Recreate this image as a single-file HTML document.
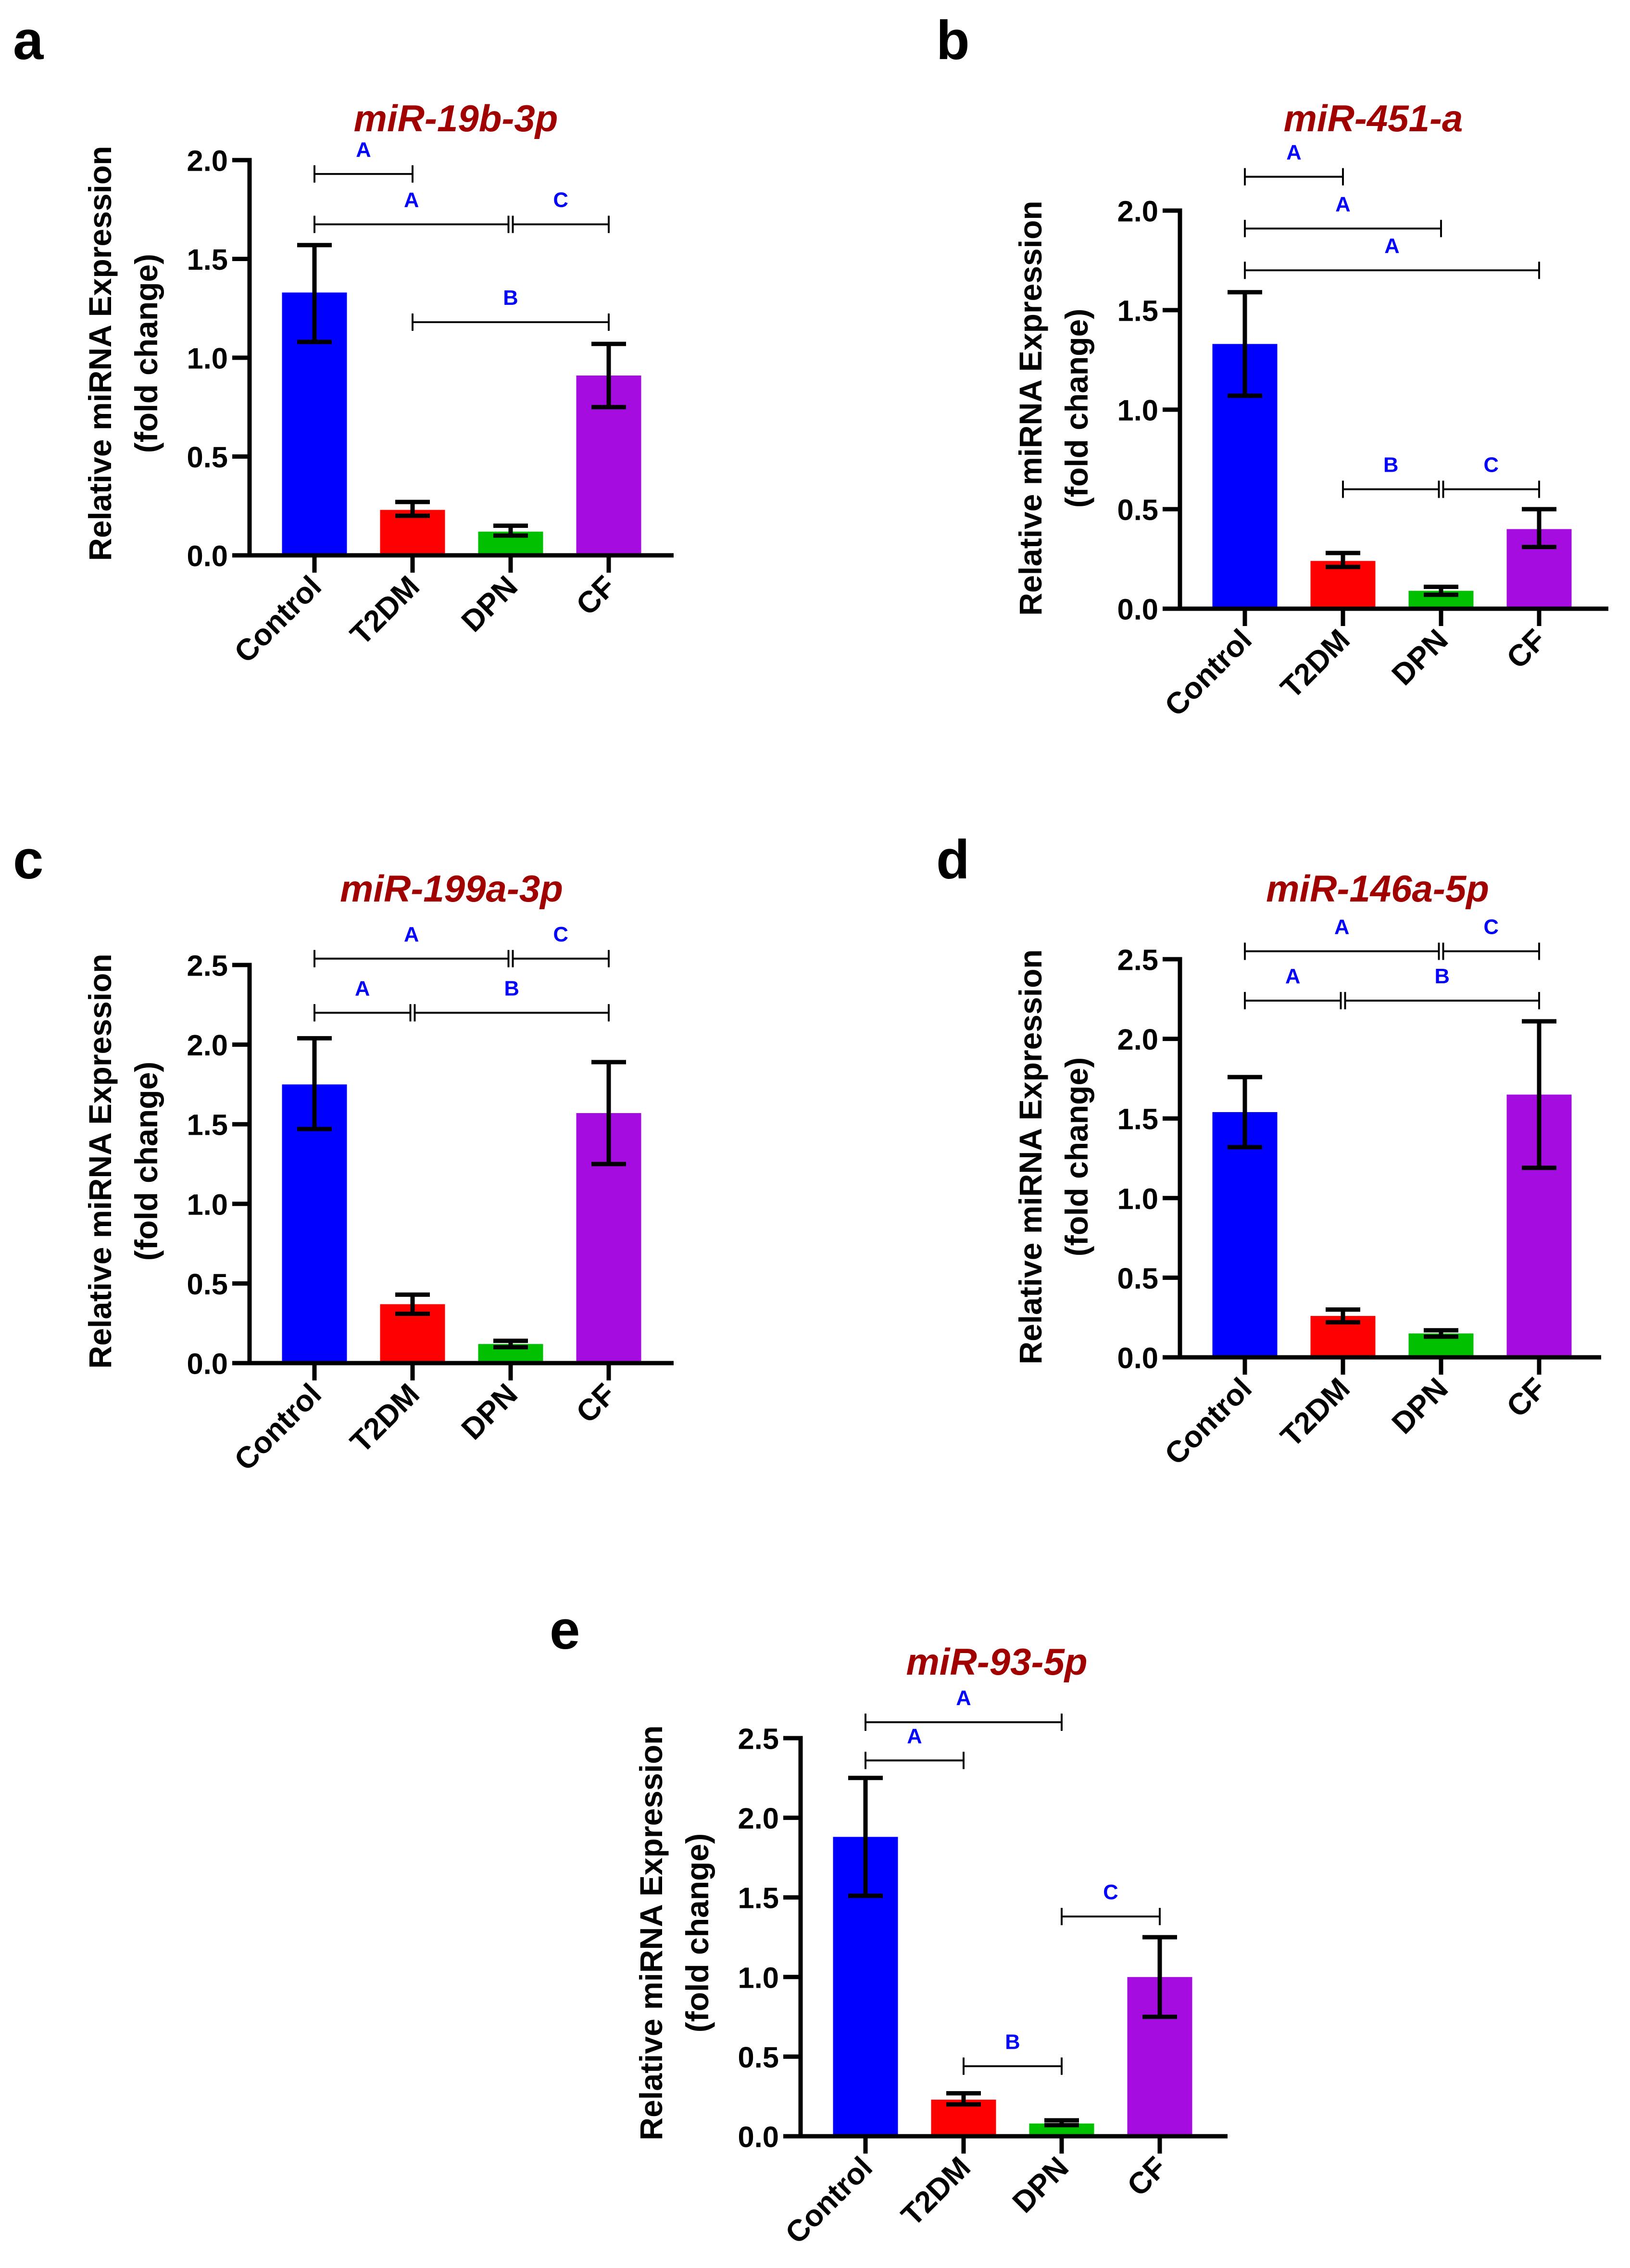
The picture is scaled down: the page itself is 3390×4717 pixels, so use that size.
<!DOCTYPE html>
<html><head><meta charset="utf-8"><style>
html,body{margin:0;padding:0;background:#fff}
svg{display:block}
text{font-family:"Liberation Sans",Arial,sans-serif;font-weight:bold}
</style></head><body>
<svg id="fig" width="3390" height="4717" viewBox="0 0 1130 1572.33" xmlns="http://www.w3.org/2000/svg"></svg>
<script>
const categories = ["Control","T2DM","DPN","CF"];
const colors = ["#0000ff","#ff0000","#00c000","#a40ce0"];
const titles = ["miR-19b-3p","miR-451-a","miR-199a-3p","miR-146a-5p","miR-93-5p"];
const panelLetters = ["a","b","c","d","e"];
const meanA = [1.33,0.23,0.12,0.91];
const lowA = [1.08,0.20,0.10,0.75];
const highA = [1.57,0.27,0.15,1.07];
const meanB = [1.33,0.24,0.09,0.40];
const lowB = [1.07,0.21,0.07,0.31];
const highB = [1.59,0.28,0.11,0.50];
const meanC = [1.75,0.37,0.12,1.57];
const lowC = [1.47,0.31,0.10,1.25];
const highC = [2.04,0.43,0.14,1.89];
const meanD = [1.54,0.26,0.15,1.65];
const lowD = [1.32,0.22,0.13,1.19];
const highD = [1.76,0.30,0.17,2.11];
const meanE = [1.88,0.23,0.08,1.00];
const lowE = [1.51,0.20,0.07,0.75];
const highE = [2.25,0.27,0.10,1.25];
const ticksAB = [0,0.5,1.0,1.5,2.0];
const ticksCDE = [0,0.5,1.0,1.5,2.0,2.5];
// brackets: [fromIndex, toIndex, yValue, letter]
const brA = [[0,1,1.93,"A"],[0,2,1.675,"A"],[2,3,1.675,"C"],[1,3,1.18,"B"]];
const brB = [[0,1,2.17,"A"],[0,2,1.91,"A"],[0,3,1.70,"A"],[1,2,0.60,"B"],[2,3,0.60,"C"]];
const brC = [[0,2,2.54,"A"],[2,3,2.54,"C"],[0,1,2.20,"A"],[1,3,2.20,"B"]];
const brD = [[0,2,2.55,"A"],[2,3,2.55,"C"],[0,1,2.24,"A"],[1,3,2.24,"B"]];
const brE = [[0,2,2.60,"A"],[0,1,2.36,"A"],[2,3,1.38,"C"],[1,2,0.44,"B"]];

const panels = [
 {mean:meanA,low:lowA,high:highA,ticks:ticksAB,br:brA,ax:173,y0:385,ytop:111,ymax:2.0,xend:467,lx:20,ly:28,ylc:245,tx:316,ty:82},
 {mean:meanB,low:lowB,high:highB,ticks:ticksAB,br:brB,ax:818,y0:422,ytop:146,ymax:2.0,xend:1115,lx:660,ly:28,ylc:283,tx:952,ty:82},
 {mean:meanC,low:lowC,high:highC,ticks:ticksCDE,br:brC,ax:173,y0:945,ytop:669,ymax:2.5,xend:467,lx:20,ly:596,ylc:805,tx:313,ty:616},
 {mean:meanD,low:lowD,high:highD,ticks:ticksCDE,br:brD,ax:818,y0:941,ytop:665,ymax:2.5,xend:1110,lx:660,ly:596,ylc:802,tx:955,ty:616},
 {mean:meanE,low:lowE,high:highE,ticks:ticksCDE,br:brE,ax:555,y0:1481,ytop:1205,ymax:2.5,xend:851,lx:392,ly:1130,ylc:1340,tx:691,ty:1152}
];
const NS="http://www.w3.org/2000/svg";
const svg=document.getElementById('fig');
function mk(tag,attrs,parent,txt){const e=document.createElementNS(NS,tag);for(const k in attrs)e.setAttribute(k,attrs[k]);if(txt!==undefined)e.textContent=txt;parent.appendChild(e);return e;}

panels.forEach((p,pi)=>{
 const g=mk('g',{},svg);
 
 
 const yS=v=>p.y0-(v/p.ymax)*(p.y0-p.ytop);
 const xS=i=>p.ax+45+i*68;
 const lab=mk('text',{x:p.lx-11,y:p.ly+13,'font-size':38,fill:'#000'},g,panelLetters[pi]);
 
 
 const t=mk('text',{x:p.tx,y:p.ty+9,'font-size':26,'font-style':'italic',fill:'#a00000','text-anchor':'middle'},g,titles[pi]);
 
 
 const yl=mk('text',{transform:`translate(${p.ax-96},${p.ylc}) rotate(-90)`,'font-size':22,'text-anchor':'middle',fill:'#000'},g,'Relative miRNA Expression');
 
 
 const yl2=mk('text',{transform:`translate(${p.ax-64},${p.ylc}) rotate(-90)`,'font-size':22,'text-anchor':'middle',fill:'#000'},g,'(fold change)');
 
 
 categories.forEach((c,i)=>{
  const r=mk('rect',{x:xS(i)-22.5,y:yS(p.mean[i]),width:45,height:p.y0-yS(p.mean[i]),fill:colors[i]},g);
  
  
  const eb=mk('path',{d:`M${xS(i)},${yS(p.low[i])}V${yS(p.high[i])}M${xS(i)-12},${yS(p.high[i])}h24M${xS(i)-12},${yS(p.low[i])}h24`,stroke:'#000','stroke-width':3,fill:'none'},g);
  
  
  const tk=mk('line',{x1:xS(i),x2:xS(i),y1:p.y0,y2:p.y0+12,stroke:'#000','stroke-width':3},g);
  
  
  const xl=mk('text',{transform:`translate(${xS(i)+6},${p.y0+23}) rotate(-45)`,'font-size':21,'text-anchor':'end',fill:'#000'},g,c);
  
  
 });
 const ya=mk('line',{x1:p.ax,x2:p.ax,y1:p.ytop-1.5,y2:p.y0+1.5,stroke:'#000','stroke-width':3},g);
 
 
 const xa=mk('line',{x1:p.ax-12,x2:p.xend,y1:p.y0,y2:p.y0,stroke:'#000','stroke-width':3},g);
 
 
 p.ticks.forEach(v=>{
  const l=mk('line',{x1:p.ax-12,x2:p.ax,y1:yS(v),y2:yS(v),stroke:'#000','stroke-width':3},g);
  
  
  const tl=mk('text',{x:p.ax-15,y:yS(v)+7.5,'font-size':20.5,'text-anchor':'end',fill:'#000'},g,v.toFixed(1));
  
  
 });
 p.br.forEach(b=>{
  const y=yS(b[2]);
  let x1=xS(b[0]),x2=xS(b[1]);
  const sharedL=p.br.some(o=>o!==b&&o[1]===b[0]&&o[2]===b[2]);
  const sharedR=p.br.some(o=>o!==b&&o[0]===b[1]&&o[2]===b[2]);
  if(sharedL)x1+=1.5; if(sharedR)x2-=1.5;
  const bp=mk('path',{d:`M${x1},${y-6}V${y+6}M${x1},${y}H${x2}M${x2},${y-6}V${y+6}`,stroke:'#000','stroke-width':1.3,fill:'none'},g);
  
  
  const bt=mk('text',{x:(x1+x2)/2,y:y-12,'font-size':14.5,'text-anchor':'middle',fill:'#0000ff'},g,b[3]);
  
  
 });
});
</script>
</body></html>
